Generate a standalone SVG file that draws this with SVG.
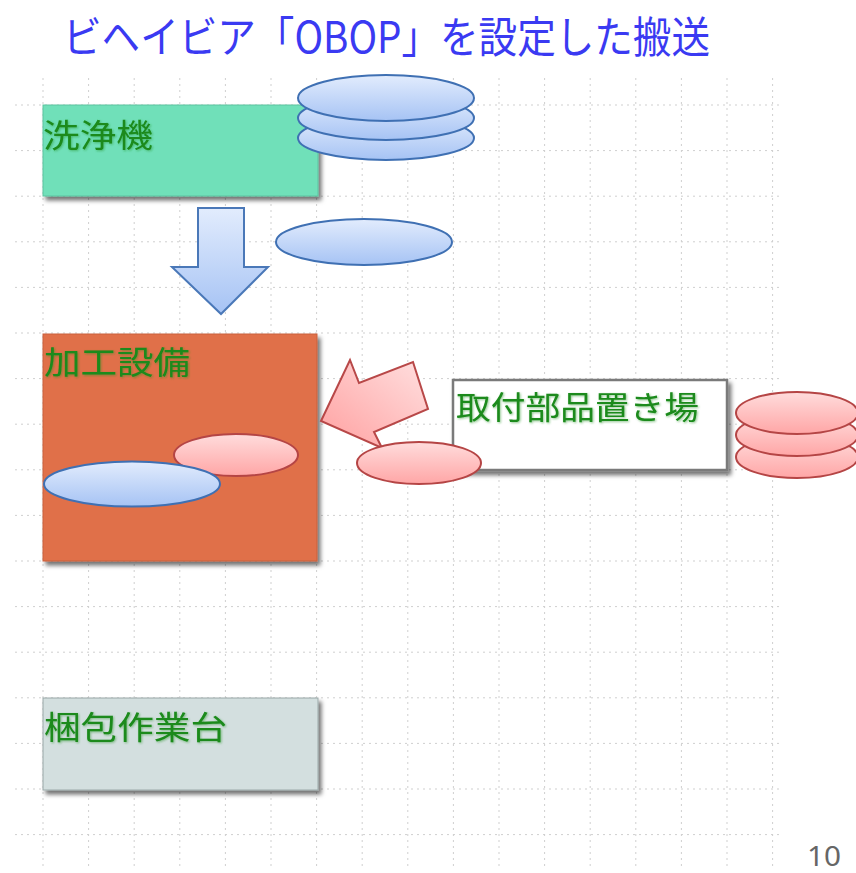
<svg xmlns="http://www.w3.org/2000/svg" width="856" height="873" viewBox="0 0 856 873">
<style>
.grid line{stroke:#cfcfcf;stroke-width:1;stroke-dasharray:2 4}
.lbl{font-family:"Noto Sans CJK JP","Noto Sans",sans-serif;font-size:32px;fill:#1a8a1a}
.title{font-family:"Noto Sans CJK JP","Noto Sans",sans-serif;font-size:43px;fill:#3a3af2}
.be{fill:url(#gb);stroke:#3f70b3;stroke-width:2}
.pe{fill:url(#gp);stroke:#b54545;stroke-width:2}
</style>
<defs>
<linearGradient id="gb" x1="0" y1="0" x2="0" y2="1"><stop offset="0" stop-color="#e2ecfd"/><stop offset="1" stop-color="#a6c3f4"/></linearGradient>
<linearGradient id="gp" x1="0" y1="0" x2="0" y2="1"><stop offset="0" stop-color="#ffdcdc"/><stop offset="1" stop-color="#ffa6a6"/></linearGradient>
<linearGradient id="gpa" x1="1" y1="0" x2="0" y2="1"><stop offset="0" stop-color="#ffe0e0"/><stop offset="1" stop-color="#ffa0a0"/></linearGradient>
<filter id="sh" x="-10%" y="-10%" width="130%" height="130%"><feDropShadow dx="3" dy="4" stdDeviation="2" flood-color="#000" flood-opacity="0.55"/></filter>
<filter id="tg" x="-5%" y="-20%" width="110%" height="140%"><feDropShadow dx="1" dy="1" stdDeviation="1.2" flood-color="#1d8f1d" flood-opacity="0.5"/></filter>
</defs>
<rect width="856" height="873" fill="#fff"/>
<g class="grid">
<line x1="15" y1="105" x2="781" y2="105"/><line x1="15" y1="150.6" x2="781" y2="150.6"/><line x1="15" y1="196.2" x2="781" y2="196.2"/><line x1="15" y1="241.8" x2="781" y2="241.8"/><line x1="15" y1="287.4" x2="781" y2="287.4"/><line x1="15" y1="333" x2="781" y2="333"/><line x1="15" y1="378.6" x2="781" y2="378.6"/><line x1="15" y1="424.2" x2="781" y2="424.2"/><line x1="15" y1="469.8" x2="781" y2="469.8"/><line x1="15" y1="515.4" x2="781" y2="515.4"/><line x1="15" y1="561" x2="781" y2="561"/><line x1="15" y1="606.6" x2="781" y2="606.6"/><line x1="15" y1="652.2" x2="781" y2="652.2"/><line x1="15" y1="697.8" x2="781" y2="697.8"/><line x1="15" y1="743.4" x2="781" y2="743.4"/><line x1="15" y1="789" x2="781" y2="789"/><line x1="15" y1="834.6" x2="781" y2="834.6"/>
<line x1="43" y1="78" x2="43" y2="870"/><line x1="88.6" y1="78" x2="88.6" y2="870"/><line x1="134.2" y1="78" x2="134.2" y2="870"/><line x1="179.8" y1="78" x2="179.8" y2="870"/><line x1="225.4" y1="78" x2="225.4" y2="870"/><line x1="271" y1="78" x2="271" y2="870"/><line x1="316.6" y1="78" x2="316.6" y2="870"/><line x1="362.2" y1="78" x2="362.2" y2="870"/><line x1="407.8" y1="78" x2="407.8" y2="870"/><line x1="453.4" y1="78" x2="453.4" y2="870"/><line x1="499" y1="78" x2="499" y2="870"/><line x1="544.6" y1="78" x2="544.6" y2="870"/><line x1="590.2" y1="78" x2="590.2" y2="870"/><line x1="635.8" y1="78" x2="635.8" y2="870"/><line x1="681.4" y1="78" x2="681.4" y2="870"/><line x1="727" y1="78" x2="727" y2="870"/><line x1="772.6" y1="78" x2="772.6" y2="870"/>
</g>
<text class="title" x="63" y="53" textLength="647" lengthAdjust="spacingAndGlyphs">ビヘイビア「OBOP」を設定した搬送</text>
<g id="washer">
<rect x="43" y="105" width="275" height="91" fill="#6fe0b9" stroke="#5cc4a0" stroke-width="1" filter="url(#sh)"/>
<text class="lbl" x="43" y="147" textLength="110" lengthAdjust="spacingAndGlyphs" filter="url(#tg)">洗浄機</text>
</g>
<g id="machining">
<rect x="43" y="334" width="274" height="227" fill="#e06f48" stroke="#c9603c" stroke-width="1" filter="url(#sh)"/>
<text class="lbl" x="44" y="374" textLength="146" lengthAdjust="spacingAndGlyphs" filter="url(#tg)">加工設備</text>
</g>
<g id="parts">
<rect x="453" y="380" width="274" height="90" fill="#fff" stroke="#7a7a7a" stroke-width="2.5" filter="url(#sh)"/>
<text class="lbl" x="456" y="419" textLength="243" lengthAdjust="spacingAndGlyphs" filter="url(#tg)">取付部品置き場</text>
</g>
<g id="packing">
<rect x="43" y="698" width="275" height="92" fill="#d3dfdf" stroke="#9aa8a8" stroke-width="1" filter="url(#sh)"/>
<text class="lbl" x="44" y="739" textLength="183" lengthAdjust="spacingAndGlyphs" filter="url(#tg)">梱包作業台</text>
</g>
<g id="connectors">
<path d="M198,208 H244 V267 H268 L221,314 L172,267 H198 Z" fill="url(#gb)" stroke="#4a78b8" stroke-width="2"/>
<path d="M321,421 L350,360 L359,383 L413,362 L428,409 L374,432 L382,448 Z" fill="url(#gpa)" stroke="#b84848" stroke-width="2"/>
</g>
<g id="blue-stack">
<ellipse class="be" cx="386" cy="138" rx="88" ry="22"/>
<ellipse class="be" cx="386" cy="118" rx="88" ry="22"/>
<ellipse class="be" cx="386" cy="98" rx="88" ry="23"/>
</g>
<g id="blue-moving"><ellipse class="be" cx="364" cy="242" rx="88" ry="23"/></g>
<g id="pink-in-machine"><ellipse class="pe" cx="236" cy="455" rx="62" ry="21"/></g>
<g id="blue-in-machine"><ellipse class="be" cx="132" cy="484" rx="88" ry="22.5"/></g>
<g id="pink-moving"><ellipse class="pe" cx="419" cy="463" rx="62" ry="21"/></g>
<g id="pink-stack">
<ellipse class="pe" cx="797" cy="457" rx="61" ry="21"/>
<ellipse class="pe" cx="797" cy="435" rx="61" ry="21"/>
<ellipse class="pe" cx="797" cy="413" rx="61" ry="21"/>
</g>
<text x="807" y="866" font-family="Noto Sans, sans-serif" font-size="27" fill="#666" textLength="34" lengthAdjust="spacingAndGlyphs">10</text>
</svg>
